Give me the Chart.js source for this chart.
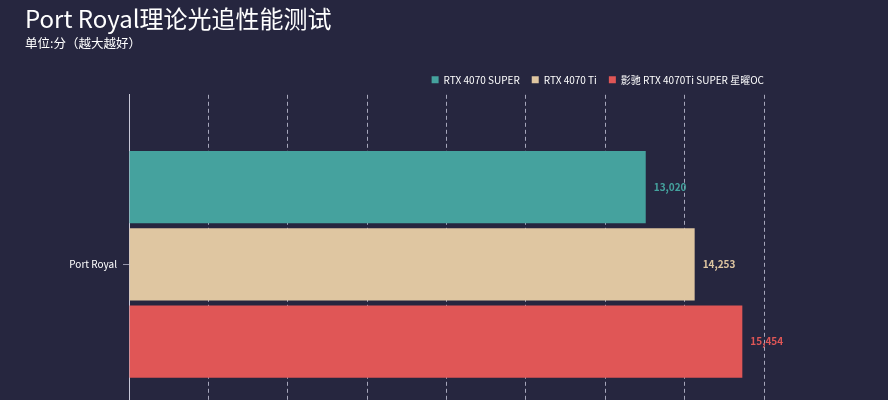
<!DOCTYPE html>
<html>
<head>
<meta charset="utf-8">
<script src="https://cdn.jsdelivr.net/npm/chart.js@4"></script>
<style>
  html, body { margin: 0; padding: 0; background: #26263f; overflow: hidden; }
  #wrap { width: 888px; height: 446px; }
</style>
</head>
<body>
<div id="wrap"><canvas id="chart"></canvas></div>
<script>
/* 数据 */
var categories = ["Port Royal"];
var seriesNames = ["RTX 4070 SUPER", "RTX 4070 Ti", "影驰 RTX 4070Ti SUPER 星曜OC"];
var seriesColors = ["#45a29e", "#dfc6a1", "#e05656"];
var superVals = [13020];
var tiVals = [14253];
var galaxVals = [15454];

var font = "'Noto Sans CJK SC', 'Noto Sans', sans-serif";

/* 数值标签 */
var valueLabels = {
  id: 'valueLabels',
  afterDatasetsDraw: function (chart) {
    var ctx = chart.ctx;
    ctx.save();
    ctx.font = "bold 10px " + font;
    ctx.textBaseline = 'middle';
    chart.data.datasets.forEach(function (ds, i) {
      chart.getDatasetMeta(i).data.forEach(function (bar, j) {
        ctx.fillStyle = ds.backgroundColor;
        ctx.fillText(ds.data[j].toLocaleString('en-US'), bar.x + 8, bar.y);
      });
    });
    ctx.restore();
  }
};

var ctx = document.getElementById('chart').getContext('2d');
var chart = new Chart(ctx, {
  type: 'bar',
  data: {
    labels: categories,
    datasets: [
      { label: seriesNames[0], data: superVals, backgroundColor: seriesColors[0] },
      { label: seriesNames[1], data: tiVals, backgroundColor: seriesColors[1] },
      { label: seriesNames[2], data: galaxVals, backgroundColor: seriesColors[2] }
    ]
  },
  options: {
    indexAxis: 'y',
    responsive: true,
    maintainAspectRatio: false,
    animation: false,
    categoryPercentage: 0.683,
    barPercentage: 0.935,
    layout: { padding: { left: 25, right: 112, top: 0, bottom: 7 } },
    plugins: {
      title: {
        display: true,
        text: 'Port Royal理论光追性能测试',
        align: 'start',
        color: '#ffffff',
        font: { family: font, size: 24, weight: 'normal' },
        padding: { top: 4, bottom: 3 }
      },
      subtitle: {
        display: true,
        text: '单位:分（越大越好）',
        align: 'start',
        color: '#ffffff',
        font: { family: font, size: 12.5 },
        padding: { bottom: 12 }
      },
      legend: {
        align: 'end',
        labels: {
          color: '#ffffff',
          font: { family: font, size: 10 },
          boxWidth: 7,
          boxHeight: 7,
          padding: 12
        }
      },
      tooltip: { enabled: false }
    },
    scales: {
      x: {
        min: 0,
        max: 16000,
        ticks: { display: false, stepSize: 2000 },
        grid: { color: 'rgba(210,210,230,0.75)', drawTicks: false },
        border: { display: false, dash: [4, 3] }
      },
      y: {
        ticks: { color: '#ffffff', font: { family: font, size: 10 }, padding: 6 },
        grid: { display: true, offset: false, drawOnChartArea: false, tickLength: 6, color: 'rgba(200,200,220,0.7)' },
        border: { display: true, color: '#c8c8d8' },
        afterFit: function (s) { s.width = 104; }
      },
      yRight: {
        position: 'right',
        ticks: { display: false },
        grid: { display: false },
        border: { display: false },
        afterFit: function (s) { s.width = 12; }
      }
    }
  },
  plugins: [valueLabels]
});
</script>
</body>
</html>
